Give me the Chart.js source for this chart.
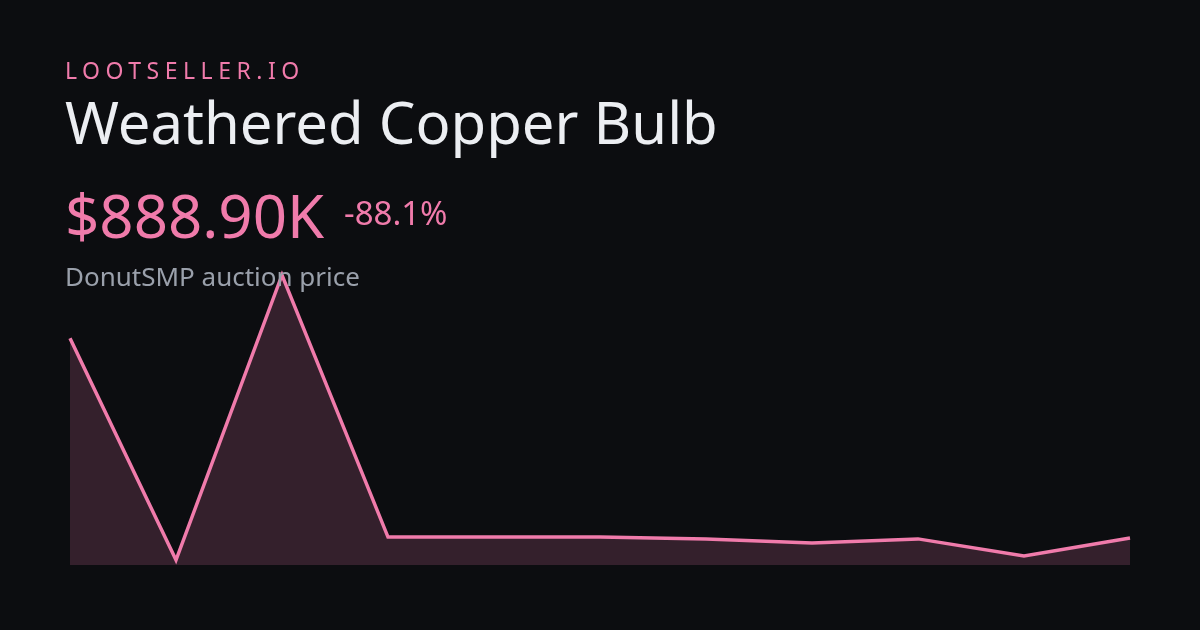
<!DOCTYPE html>
<html><head><meta charset="utf-8">
<script src="https://cdn.jsdelivr.net/npm/chart.js@4/dist/chart.umd.min.js"></script>
<style>
body{margin:0;background:#0c0d10;width:1200px;height:630px;overflow:hidden;font-family:"Noto Sans",sans-serif;}
#wrap{position:absolute;left:0;top:0;width:1200px;height:630px;}
.t{position:absolute;left:65px;white-space:nowrap;}
#brand{top:54px;font-size:23px;letter-spacing:5.5px;color:#f07bab;}
#title{top:82px;font-size:58px;color:#eceef2;}
#price{top:174px;font-size:60px;color:#f07bab;}
#chg{position:absolute;left:344px;top:190px;font-size:33px;color:#f07bab;}
#sub{top:258px;font-size:26px;color:#9aa0ab;}
</style></head><body>
<div id="wrap"><canvas id="myChart" width="1200" height="630"></canvas></div>
<div class="t" id="brand">LOOTSELLER.IO</div>
<div class="t" id="title">Weathered Copper Bulb</div>
<div class="t" id="price">$888.90K</div>
<div id="chg">-88.1%</div>
<div class="t" id="sub">DonutSMP auction price</div>
<script>
var labels = ["1","2","3","4","5","6","7","8","9","10","11"];
var prices = [7470, 165, 9550, 920, 920, 920, 860, 725, 860, 300, 889];

const ctx = document.getElementById('myChart');
new Chart(ctx, {
    type: 'line',
    data: {
        labels: labels,
        datasets: [{
            data: prices,
            borderColor: '#f07bab',
            borderWidth: 3.5,
            backgroundColor: 'rgba(240,123,171,0.18)',
            fill: 'origin',
            pointRadius: 0,
            tension: 0,
            clip: false
        }]
    },
    options: {
        responsive: false,
        animation: false,
        layout: { padding: { left: 70, right: 70, top: 275, bottom: 65 } },
        scales: {
            x: { display: false, offset: false },
            y: { display: false, min: 0, max: 9550 }
        },
        plugins: { legend: { display: false }, tooltip: { enabled: false } }
    }
});
</script>
</body></html>
